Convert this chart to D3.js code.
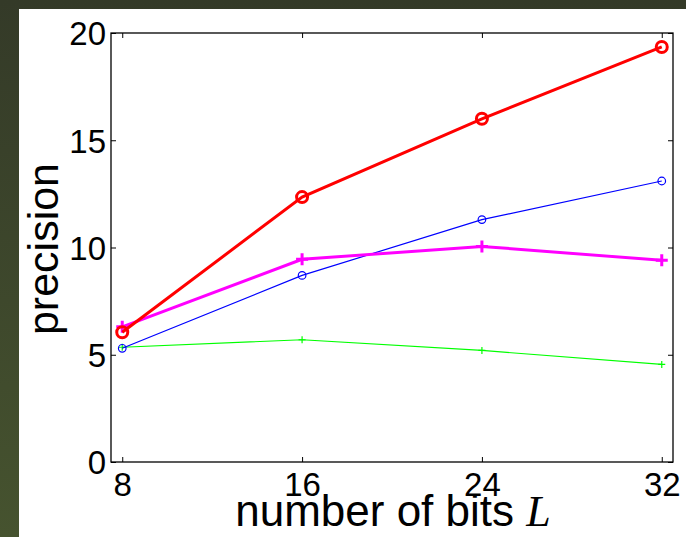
<!DOCTYPE html>
<html>
<head>
<meta charset="utf-8">
<script src="https://cdn.jsdelivr.net/npm/d3@7"></script>
<style>
  body { margin: 0; padding: 0; }
  svg { display: block; }
</style>
</head>
<body>
<div id="chart"></div>
<script>
// data
var bits = [8, 16, 24, 32];
var redVals = [6.05, 12.35, 16.0, 19.35];
var blueVals = [5.3, 8.7, 11.3, 13.1];
var magentaVals = [6.3, 9.45, 10.05, 9.4];
var greenVals = [5.35, 5.7, 5.2, 4.55];
var xTicks = [8, 16, 24, 32];
var yTicks = [0, 5, 10, 15, 20];

var width = 686, height = 537;
var plotLeft = 111, plotRight = 673, plotTop = 33, plotBottom = 462;
var fontSans = "Liberation Sans, Arial, Helvetica, sans-serif";

var svg = d3.select("#chart").append("svg")
    .attr("width", width)
    .attr("height", height);

var defs = svg.append("defs");
var grad = defs.append("linearGradient")
    .attr("id", "bg")
    .attr("x1", 0).attr("y1", 0).attr("x2", 0).attr("y2", 1);
grad.append("stop").attr("offset", "0%").attr("stop-color", "#343a28");
grad.append("stop").attr("offset", "100%").attr("stop-color", "#46532f");

svg.append("rect").attr("width", width).attr("height", height).attr("fill", "url(#bg)");
svg.append("rect").attr("x", 19).attr("y", 9).attr("width", width - 19).attr("height", height - 9).attr("fill", "#ffffff");

var x = d3.scaleLinear().domain([7.5, 32.5]).range([plotLeft, plotRight]);
var y = d3.scaleLinear().domain([0, 20]).range([plotBottom, plotTop]);

// box
svg.append("rect")
    .attr("x", plotLeft).attr("y", plotTop)
    .attr("width", plotRight - plotLeft).attr("height", plotBottom - plotTop)
    .attr("fill", "none").attr("stroke", "#000").attr("stroke-width", 1.3);

// axes with inward ticks
var xAxis = svg.append("g").attr("transform", "translate(0," + plotBottom + ")")
    .call(d3.axisBottom(x).tickValues(xTicks).tickSize(-5).tickPadding(11));
var xAxisTop = svg.append("g").attr("transform", "translate(0," + plotTop + ")")
    .call(d3.axisTop(x).tickValues(xTicks).tickSize(-5).tickFormat(""));
var yAxis = svg.append("g").attr("transform", "translate(" + plotLeft + ",0)")
    .call(d3.axisLeft(y).tickValues(yTicks).tickSize(-5).tickPadding(5));
var yAxisRight = svg.append("g").attr("transform", "translate(" + plotRight + ",0)")
    .call(d3.axisRight(y).tickValues(yTicks).tickSize(-5).tickFormat(""));

[xAxis, xAxisTop, yAxis, yAxisRight].forEach(function(a) {
    a.select(".domain").remove();
    a.attr("font-size", null).attr("font-family", null);
    a.selectAll(".tick line").attr("stroke", "#000").attr("stroke-width", 1);
    a.selectAll("text")
        .style("font-family", fontSans)
        .style("font-size", "33px")
        .attr("fill", "#000");
});
xAxis.selectAll("text").attr("dy", "0.71em");
yAxis.selectAll("text").attr("dy", "0.36em");

var line = d3.line()
    .x(function(d, i) { return x(bits[i]); })
    .y(function(d) { return y(d); });

function drawSeries(vals, color, lw, marker, msize) {
    var g = svg.append("g");
    g.append("path")
        .datum(vals)
        .attr("d", line)
        .attr("fill", "none")
        .attr("stroke", color)
        .attr("stroke-width", lw);
    if (marker == "circle") {
        g.selectAll("circle").data(vals).enter().append("circle")
            .attr("cx", function(d, i) { return x(bits[i]); })
            .attr("cy", function(d) { return y(d); })
            .attr("r", msize)
            .attr("fill", "none")
            .attr("stroke", color)
            .attr("stroke-width", lw);
    } else {
        g.selectAll("path.plus").data(vals).enter().append("path")
            .attr("class", "plus")
            .attr("d", function(d, i) {
                var cx = x(bits[i]), cy = y(d);
                return "M" + (cx - msize) + "," + cy + "H" + (cx + msize) +
                       "M" + cx + "," + (cy - msize) + "V" + (cy + msize);
            })
            .attr("fill", "none")
            .attr("stroke", color)
            .attr("stroke-width", lw);
    }
}

drawSeries(greenVals, "#00ff00", 1.2, "plus", 3.5);
drawSeries(blueVals, "#0000ff", 1.2, "circle", 3.8);
drawSeries(magentaVals, "#ff00ff", 3, "plus", 6);
drawSeries(redVals, "#ff0000", 3, "circle", 5.5);

// axis labels
var xl = svg.append("text")
    .attr("x", 393).attr("y", 526)
    .attr("text-anchor", "middle")
    .style("font-family", fontSans)
    .style("font-size", "44px")
    .attr("fill", "#000");
xl.append("tspan").text("number of bits ");
xl.append("tspan")
    .style("font-family", "Liberation Serif, DejaVu Serif, serif")
    .style("font-style", "italic")
    .text("L");

svg.append("text")
    .attr("transform", "translate(58,249) rotate(-90)")
    .attr("text-anchor", "middle")
    .style("font-family", fontSans)
    .style("font-size", "43px")
    .attr("fill", "#000")
    .text("precision");
</script>
</body>
</html>
